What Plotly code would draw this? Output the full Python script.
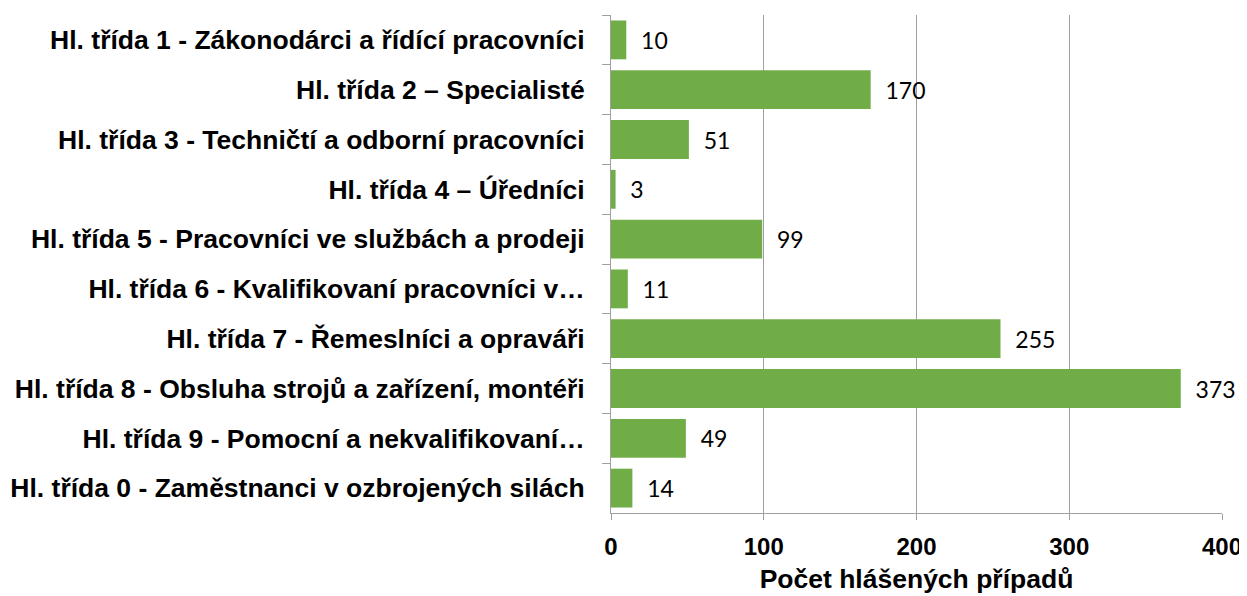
import plotly.graph_objects as go

categories = [
    "Hl. třída 1 - Zákonodárci a řídící pracovníci",
    "Hl. třída 2 – Specialisté",
    "Hl. třída 3 - Techničtí a odborní pracovníci",
    "Hl. třída 4 – Úředníci",
    "Hl. třída 5 - Pracovníci ve službách a prodeji",
    "Hl. třída 6 - Kvalifikovaní pracovníci v…",
    "Hl. třída 7 - Řemeslníci a opraváři",
    "Hl. třída 8 - Obsluha strojů a zařízení, montéři",
    "Hl. třída 9 - Pomocní a nekvalifikovaní…",
    "Hl. třída 0 - Zaměstnanci v ozbrojených silách",
]
values = [10, 170, 51, 3, 99, 11, 255, 373, 49, 14]
x_ticks = [0, 100, 200, 300, 400]
x_title = "Počet hlášených případů"

fig = go.Figure(go.Bar(
    y=categories, x=values, orientation="h",
    marker=dict(color="#70AD47", line=dict(width=0)),
    text=["\u00a0\u00a0" + str(v) for v in values], textposition="outside",
    textfont=dict(family="Lato, Carlito, sans-serif", size=23, color="#000000"),
    cliponaxis=False,
))

# page body has an 8px default margin, so the figure is sized to fill the rest
fig.update_layout(
    width=1239, height=588,
    margin=dict(l=603, r=25, t=7, b=83),
    paper_bgcolor="white", plot_bgcolor="white",
    bargap=0.22,
    showlegend=False,
    xaxis=dict(
        range=[0, 400], tickvals=x_ticks,
        showgrid=True, gridcolor="#A0A0A0", gridwidth=1,
        showline=True, linecolor="#A0A0A0", linewidth=1,
        ticks="outside", ticklen=6, tickcolor="#A0A0A0",
        ticklabelstandoff=6,
        tickfont=dict(family="Arial, Liberation Sans, sans-serif", size=24, color="#000000", weight="bold"),
        title=dict(text="<b>" + x_title + "</b>", standoff=10,
                   font=dict(family="Arial, Liberation Sans, sans-serif", size=26.5, color="#000000")),
        zeroline=False,
        automargin=False,
    ),
    yaxis=dict(
        autorange="reversed",
        showline=True, linecolor="#A0A0A0", linewidth=1,
        ticks="outside", ticklen=8, tickcolor="#A0A0A0", tickson="boundaries",
        ticklabelstandoff=20,
        tickfont=dict(family="Arial, Liberation Sans, sans-serif", size=26.5, color="#000000", weight="bold"),
        showgrid=False,
        automargin=False,
    ),
)

fig.write_html("out.html")
